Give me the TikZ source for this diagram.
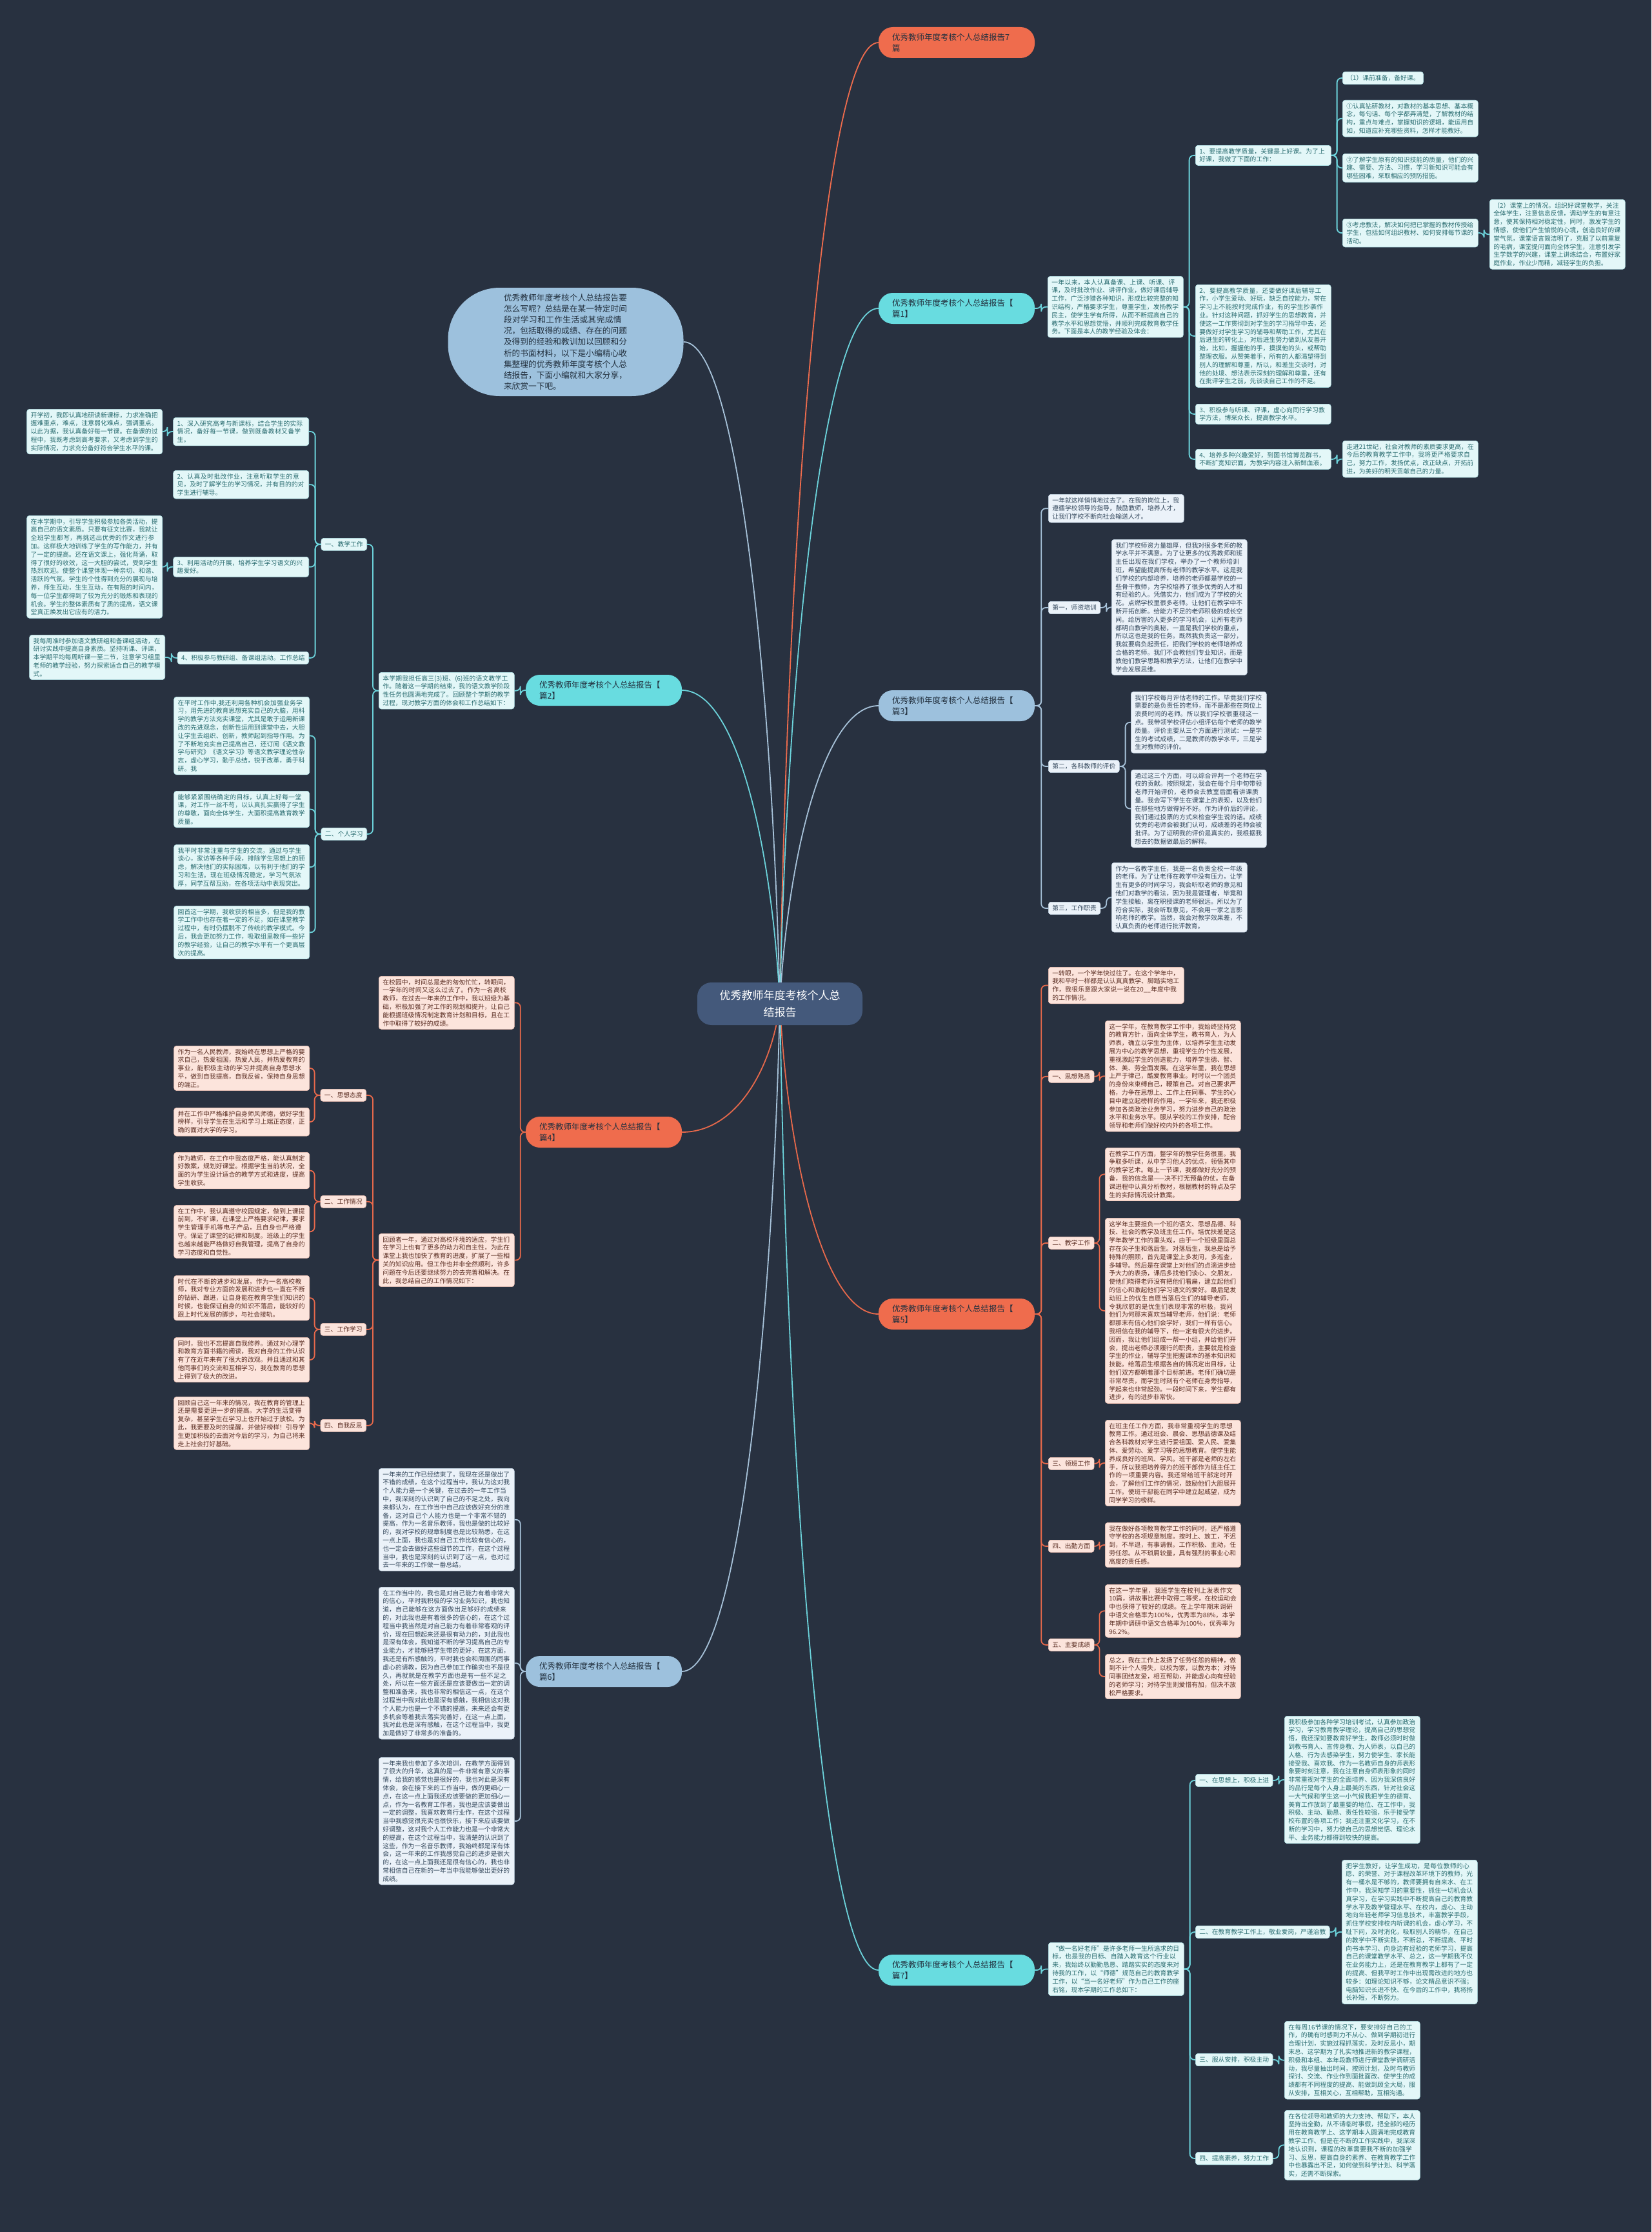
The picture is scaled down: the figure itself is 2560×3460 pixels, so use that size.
\documentclass[tikz,border=0pt]{standalone}
\usepackage{fontspec}
\newfontfamily\cjk{Noto Sans CJK SC}
\XeTeXlinebreaklocale "zh"
\XeTeXlinebreakskip=0pt plus 1pt
\usetikzlibrary{backgrounds}
\pgfdeclarelayer{bgfill}
\pgfdeclarelayer{edges}
\pgfsetlayers{bgfill,edges,main}
\definecolor{bgc}{HTML}{283140}
\definecolor{rootc}{HTML}{44597B}
\definecolor{cyb}{HTML}{68DCE0}
\definecolor{cyl}{HTML}{6CD3DB}
\definecolor{cynf}{HTML}{E3F7F8}
\definecolor{cynd}{HTML}{B5E6EA}
\definecolor{cynt}{HTML}{2A6C70}
\definecolor{ogb}{HTML}{EF6C4D}
\definecolor{ogl}{HTML}{E8694B}
\definecolor{ognf}{HTML}{FCE4DC}
\definecolor{ognd}{HTML}{F2C4B6}
\definecolor{ognt}{HTML}{5A2D22}
\definecolor{blb}{HTML}{9DC1DD}
\definecolor{bll}{HTML}{A7C2D9}
\definecolor{blnf}{HTML}{EBF2F9}
\definecolor{blnd}{HTML}{C6D6E6}
\definecolor{blnt}{HTML}{33475B}
\definecolor{brt}{HTML}{22303E}
\newcommand\notefont{\cjk\fontsize{9.8pt}{12.8pt}\selectfont}
\newcommand\brfont{\cjk\fontsize{12.5pt}{16.5pt}\selectfont}
\newcommand\rootfont{\cjk\fontsize{17pt}{26pt}\selectfont}
\newcommand\introfont{\cjk\fontsize{12.7pt}{17.2pt}\selectfont}
\tikzset{
  base/.style={font=\notefont, rounded corners=4pt, line width=0.6pt, inner xsep=6pt, inner ysep=4.5pt},
  nt/.style={base, align=left, text width=198pt},
  lab/.style={base, inner ysep=5pt},
  cyn/.style={fill=cynf, draw=cynd, text=cynt},
  ogn/.style={fill=ognf, draw=ognd, text=ognt},
  bln/.style={fill=blnf, draw=blnd, text=blnt},
  branch/.style={rounded corners=22pt, minimum width=242pt, minimum height=48pt, text width=200pt, align=left, inner xsep=21pt, font=\brfont, text=brt},
  rootnode/.style={fill=rootc, text=white, rounded corners=22pt, minimum width=256pt, minimum height=66pt, align=center, font=\rootfont},
  intro/.style={fill=blb, text=brt, rounded corners=80pt, minimum width=365pt, minimum height=168pt, text width=192pt, align=left, inner xsep=86pt, font=\introfont},
  cyline/.style={draw=cyl, line width=1.8pt, rounded corners=7pt},
  ogline/.style={draw=ogl, line width=1.8pt, rounded corners=7pt},
  blline/.style={draw=bll, line width=1.8pt, rounded corners=7pt},
  nw/.style={anchor=north west},
  ne/.style={anchor=north east}
}
\begin{document}
\begin{tikzpicture}[x=1pt,y=-1pt]
\begin{pgfonlayer}{bgfill}
\fill[bgc] (0,0) rectangle (2560,3460);
\end{pgfonlayer}
\useasboundingbox (0,0) rectangle (2560,3460);

% root and branches
\node[rootnode] (R) at (1209,1556) {优秀教师年度考核个人总\\结报告};
\node[branch, fill=ogb] (T0) at (1483,66) {优秀教师年度考核个人总结报告7\\篇};
\node[branch, fill=cyb] (B1) at (1483,478) {优秀教师年度考核个人总结报告【\\篇1】};
\node[branch, fill=cyb] (B2) at (936,1070) {优秀教师年度考核个人总结报告【\\篇2】};
\node[branch, fill=blb] (B3) at (1483,1094) {优秀教师年度考核个人总结报告【\\篇3】};
\node[branch, fill=ogb] (B4) at (936,1755) {优秀教师年度考核个人总结报告【\\篇4】};
\node[branch, fill=ogb] (B5) at (1483,2037) {优秀教师年度考核个人总结报告【\\篇5】};
\node[branch, fill=blb] (B6) at (936,2591) {优秀教师年度考核个人总结报告【\\篇6】};
\node[branch, fill=cyb] (B7) at (1483,3054) {优秀教师年度考核个人总结报告【\\篇7】};
\node[intro] (I) at (877,530) {优秀教师年度考核个人总结报告要怎么写呢？总结是在某一特定时间段对学习和工作生活或其完成情况，包括取得的成绩、存在的问题及得到的经验和教训加以回顾和分析的书面材料，以下是小编精心收集整理的优秀教师年度考核个人总结报告，下面小编就和大家分享，来欣赏一下吧。};

% ---------- 篇1 ----------
\node[nt, cyn, nw] (N1) at (1624,428) {一年以来，本人认真备课、上课、听课、评课，及时批改作业、讲评作业，做好课后辅导工作，广泛涉猎各种知识，形成比较完整的知识结构，严格要求学生，尊重学生，发扬教学民主，使学生学有所得，从而不断提高自己的教学水平和思想觉悟，并顺利完成教育教学任务。下面是本人的教学经验及体会：};
\node[nt, cyn, nw] (C11) at (1853,225) {1、要提高教学质量，关键是上好课。为了上好课，我做了下面的工作：};
\node[nt, cyn, nw] (C12) at (1853,441) {2、要提高教学质量，还要做好课后辅导工作，小学生爱动、好玩，缺乏自控能力，常在学习上不能按时完成作业，有的学生抄袭作业。针对这种问题，抓好学生的思想教育，并使这一工作贯彻到对学生的学习指导中去，还要做好对学生学习的辅导和帮助工作，尤其在后进生的转化上，对后进生努力做到从友善开始，比如，握握他的手，摸摸他的头，或帮助整理衣服。从赞美着手，所有的人都渴望得到别人的理解和尊重，所以，和差生交谈时，对他的处境、想法表示深刻的理解和尊重，还有在批评学生之前，先谈谈自己工作的不足。};
\node[nt, cyn, nw] (C13) at (1853,626) {3、积极参与听课、评课，虚心向同行学习教学方法，博采众长，提高教学水平。};
\node[nt, cyn, nw] (C14) at (1853,696) {4、培养多种兴趣爱好，到图书馆博览群书，不断扩宽知识面，为教学内容注入新鲜血液。};
\node[nt, cyn, nw] (C141) at (2081,683) {走进21世纪，社会对教师的素质要求更高，在今后的教育教学工作中，我将更严格要求自己，努力工作，发扬优点，改正缺点，开拓前进，为美好的明天贡献自己的力量。};
\node[lab, cyn, nw] (C111) at (2081,111) {（1）课前准备，备好课。};
\node[nt, cyn, nw] (C112) at (2081,155) {①认真钻研教材，对教材的基本思想、基本概念，每句话、每个字都弄清楚，了解教材的结构，重点与难点，掌握知识的逻辑，能运用自如，知道应补充哪些资料，怎样才能教好。};
\node[nt, cyn, nw] (C113) at (2081,238) {②了解学生原有的知识技能的质量，他们的兴趣、需要、方法、习惯，学习新知识可能会有哪些困难，采取相应的预防措施。};
\node[nt, cyn, nw] (C114) at (2081,339) {③考虑教法，解决如何把已掌握的教材传授给学生，包括如何组织教材、如何安排每节课的活动。};
\node[nt, cyn, nw] (C1141) at (2309,309) {（2）课堂上的情况。组织好课堂教学，关注全体学生，注意信息反馈，调动学生的有意注意，使其保持相对稳定性，同时，激发学生的情感，使他们产生愉悦的心境，创造良好的课堂气氛，课堂语言简洁明了，克服了以前重复的毛病，课堂提问面向全体学生，注意引发学生学数学的兴趣，课堂上讲练结合，布置好家庭作业，作业少而精，减轻学生的负担。};

% ---------- 篇3 ----------
\node[nt, bln, nw] (N3) at (1625,766) {一年就这样悄悄地过去了。在我的岗位上，我遵循学校领导的指导，鼓励教师，培养人才，让我们学校不断向社会输送人才。};
\node[lab, bln, nw] (L31) at (1625,932) {第一，师资培训};
\node[nt, bln, nw] (N31) at (1723,836) {我们学校师资力量雄厚，但我对很多老师的教学水平并不满意。为了让更多的优秀教师和班主任出现在我们学校，举办了一个教师培训班，希望能提高所有老师的教学水平。这是我们学校的内部培养，培养的老师都是学校的一些骨干教师，为学校培养了很多优秀的人才和有经验的人。凭借实力，他们成为了学校的火花。点燃学校里很多老师。让他们在教学中不断开拓创新。给能力不足的老师积极的成长空间。给厉害的人更多的学习机会，让所有老师都明白教学的奥秘，一直是我们学校的重点，所以这也是我的任务。既然我负责这一部分，我就要肩负起责任，把我们学校的老师培养成合格的老师。我们不会教他们专业知识，而是教他们教学思路和教学方法，让他们在教学中学会发展思维。};
\node[lab, bln, nw] (L32) at (1625,1178) {第二，各科教师的评价};
\node[nt, bln, nw] (N321) at (1753,1072) {我们学校每月评估老师的工作。毕竟我们学校需要的是负责任的老师，而不是那些在岗位上浪费时间的老师。所以我们学校很重视这一点。我带领学校评估小组评估每个老师的教学质量。评价主要从三个方面进行测试：一是学生的考试成绩，二是教师的教学水平，三是学生对教师的评价。};
\node[nt, bln, nw] (N322) at (1753,1193) {通过这三个方面，可以综合评判一个老师在学校的贡献。按照规定，我会在每个月中旬带领老师开始评价，老师会去教室后面看讲课质量。我会写下学生在课堂上的表现，以及他们在那些地方做得好不好。作为评价后的评论，我们通过投票的方式来检查学生说的话。成绩优秀的老师会被我们认可，成绩差的老师会被批评。为了证明我的评价是真实的，我根据我想去的数据做最后的解释。};
\node[lab, bln, nw] (L33) at (1625,1398) {第三，工作职责};
\node[nt, bln, nw] (N33) at (1723,1337) {作为一名教学主任，我是一名负责全校一年级的老师。为了让老师在教学中没有压力，让学生有更多的时间学习，我会听取老师的意见和他们对教学的看法，因为我是管理者，毕竟和学生接触，离在职授课的老师很远。所以为了符合实际，我会听取意见，不会用一家之言影响老师的教学。当然，我会对教学效果差，不认真负责的老师进行批评教育。};

% ---------- 篇5 ----------
\node[nt, ogn, nw] (N5) at (1625,1499) {一转眼，一个学年快过往了。在这个学年中，我和平时一样都是认认真真教学、脚踏实地工作，我很乐意跟大家说一说在20\_\_年度中我的工作情况。};
\node[lab, ogn, nw] (L51) at (1625,1659) {一、思想熟悉};
\node[nt, ogn, nw] (N51) at (1713,1582) {这一学年，在教育教学工作中，我始终坚持党的教育方针，面向全体学生，教书育人，为人师表，确立以学生为主体，以培养学生主动发展为中心的教学思想，重视学生的个性发展，重视激起学生的创造能力，培养学生德、智、体、美、劳全面发展。在这学年里，我在思想上严于律己，酷爱教育事业。时时以一个团员的身份来束缚自己，鞭策自己。对自己要求严格，力争在思想上、工作上在同事、学生的心目中建立起榜样的作用。一学年来，我还积极参加各类政治业务学习，努力进步自己的政治水平和业务水平。服从学校的工作安排，配合领导和老师们做好校内外的各项工作。};
\node[lab, ogn, nw] (L52) at (1625,1917) {二、教学工作};
\node[nt, ogn, nw] (N521) at (1713,1779) {在教学工作方面，整学年的教学任务很重。我争取多听课，从中学习他人的优点，领悟其中的教学艺术。每上一节课，我都做好充分的预备，我的信念是——决不打无预备的仗。在备课进程中认真分析教材，根据教材的特点及学生的实际情况设计教案。};
\node[nt, ogn, nw] (N522) at (1713,1888) {这学年主要担负一个班的语文、思想品德、科技、社会的教学及班主任工作。培优扶差是这学年教学工作的重头戏，由于一个班级里面总存在尖子生和落后生。对落后生，我总是给予特殊的照顾，首先是课堂上多发问，多巡查，多辅导。然后是在课堂上对他们的点滴进步给予大力的表扬，课后多找他们谈心、交朋友，使他们晓得老师没有把他们看扁，建立起他们的信心和激起他们学习语文的爱好。最后是发动班上的优生自愿当落后生们的辅导老师，令我欣慰的是优生们表现非常的积极，我问他们为何那末喜欢当辅导老师，他们说：老师都那末有信心他们会学好，我们一样有信心。我相信在我的辅导下，他一定有很大的进步。因而，我让他们组成一帮一小组，并给他们开会，提出老师必须履行的职责，主要就是检查学生的作业，辅导学生把握课本的基本知识和技能。给落后生根据各自的情况定出目标，让他们双方都朝着那个目标前进。老师们确切是非常尽责，而学生时刻有个老师在身旁指导，学起来也非常起劲。一段时间下来，学生都有进步，有的进步非常快。};
\node[lab, ogn, nw] (L53) at (1625,2259) {三、领班工作};
\node[nt, ogn, nw] (N53) at (1713,2201) {在班主任工作方面，我非常重视学生的思想教育工作。通过班会、晨会、思想品德课及结合各科教材对学生进行爱祖国、爱人民、爱集体、爱劳动、爱学习等的思想教育。使学生能养成良好的班风、学风。班干部是老师的左右手，所以我把培养得力的班干部作为班主任工作的一项重要内容。我还常给班干部定时开会，了解他们工作的情况，鼓励他们大胆展开工作。使班干部能在同学中建立起威望，成为同学学习的榜样。};
\node[lab, ogn, nw] (L54) at (1625,2387) {四、出勤方面};
\node[nt, ogn, nw] (N54) at (1713,2360) {我在做好各项教育教学工作的同时，还严格遵守学校的各项规章制度。按时上、放工，不迟到，不早退，有事请假。工作积极、主动，任劳任怨。从不琐屑较量，具有强烈的事业心和高度的责任感。};
\node[lab, ogn, nw] (L55) at (1625,2540) {五、主要成绩};
\node[nt, ogn, nw] (N551) at (1713,2456) {在这一学年里，我班学生在校刊上发表作文10篇，讲故事比赛中取得二等奖，在校运动会中也获得了较好的成绩。在上学年期末调研中语文合格率为100％，优秀率为88\%，本学年期中调研中语文合格率为100％，优秀率为96.2\%。};
\node[nt, ogn, nw] (N552) at (1713,2564) {总之，我在工作上发扬了任劳任怨的精神，做到不计个人得失，以校为家，以教为本；对待同事团结友爱，相互帮助，并能虚心向有经验的老师学习；对待学生则爱惜有加，但决不放松严格要求。};

% ---------- 篇7 ----------
\node[nt, cyn, nw] (N7) at (1625,3011) {“做一名好老师”是许多老师一生所追求的目标，也是我的目标、自踏入教育这个行业以来，我始终以勤勤恳恳、踏踏实实的态度来对待我的工作，以“师德”规范自己的教育教学工作，以“当一名好老师”作为自己工作的座右铭，现本学期的工作总如下：};
\node[lab, cyn, nw] (L71) at (1853,2750) {一、在思想上，积极上进};
\node[nt, cyn, nw] (N71) at (1991,2660) {我积极参加各种学习培训考试，认真参加政治学习，学习教育教学理论，提高自己的思想觉悟，我还深知要教育好学生，教师必须时时做到教书育人、言传身教、为人师表，以自己的人格、行为去感染学生，努力使学生、家长能接受我、喜欢我、作为一名教师自身的师表形象要时刻注意，我在注意自身师表形象的同时非常重视对学生的全面培养、因为我深信良好的品行是每个人身上最美的东西，针对社会这一大气候和学生这一小气候我把学生的德育、美育工作放到了最重要的地位、在工作中，我积极、主动、勤恳、责任性较强，乐于接受学校布置的各项工作；我还注重文化学习，在不断的学习中，努力使自己的思想觉悟、理论水平、业务能力都得到较快的提高。};
\node[lab, cyn, nw] (L72) at (1853,2985) {二、在教育教学工作上，敬业爱岗，严谨治教};
\node[nt, cyn, nw] (N72) at (2080,2883) {把学生教好，让学生成功，是每位教师的心愿、的荣誉、对于课程改革环境下的教师，光有一桶水是不够的，教师要拥有自来水、在工作中，我深知学习的重要性，抓住一切机会认真学习，在学习实践中不断提高自己的教育教学水平及教学管理水平、在校内，虚心、主动地向年轻老师学习信息技术，丰富教学手段，抓住学校安排校内听课的机会，虚心学习，不耻下问，及时消化，吸取别人的精华，在自己的教学中不断实践，不断总，不断提高、平时向书本学习、向身边有经验的老师学习，提高自己的课堂教学水平、总之，这一学期我不仅在业务能力上，还是在教育教学上都有了一定的提高、但我平时工作中出现需改进的地方也较多：如理论知识不够，论文精品意识不强；电脑知识长进不快、在今后的工作中，我将扬长补短，不断努力。};
\node[lab, cyn, nw] (L73) at (1853,3183) {三、服从安排，积极主动};
\node[nt, cyn, nw] (N73) at (1991,3133) {在每周16节课的情况下，要安排好自己的工作，的确有时感到力不从心、做到学期初进行合理计划，实施过程抓落实，及时反思小，期末总、这学期为了扎实地推进新的教学课程，积极和本组、本年段教师进行课堂教学调研活动，我尽量抽出时间，按照计划，及时与教师探讨、交流、作业作到面批面改、使学生的成绩都有不同程度的提高、能做到顾全大局，服从安排，互相关心，互相帮助，互相沟通。};
\node[lab, cyn, nw] (L74) at (1853,3336) {四、提高素养，努力工作};
\node[nt, cyn, nw] (N74) at (1991,3271) {在各位领导和教师的大力支持、帮助下，本人坚持出全勤，从不请临时事假，把全部的经历用在教育教学上、这学期本人圆满地完成教育教学工作、但是在不断的工作实践中，我深深地认识到，课程的改革需要我不断的加强学习、反思，提高自身的素养、在教育教学工作中也暴露出不足，如何做到科学计划、科学落实，还需不断探索。};

% ---------- 篇2 ----------
\node[nt, cyn, nw] (N2) at (587,1042) {本学期我担任高三(3)班、(6)班的语文教学工作。随着这一学期的结束，我的语文教学阶段性任务也圆满地完成了。回顾整个学期的教学过程，现对教学方面的体会和工作总结如下：};
\node[lab, cyn, ne] (L21) at (569,834) {一、教学工作};
\node[lab, cyn, ne] (L22) at (569,1283) {二、个人学习};
\node[nt, cyn, ne] (C211) at (479,647) {1、深入研究高考与新课标，结合学生的实际情况，备好每一节课，做到既备教材又备学生。};
\node[nt, cyn, ne] (N211) at (252,634) {开学初，我即认真地研读新课标，力求准确把握难重点，难点，注意弱化难点，强调重点。以此为据，我认真备好每一节课。在备课的过程中，我既考虑到高考要求，又考虑到学生的实际情况，力求充分备好符合学生水平的课。};
\node[nt, cyn, ne] (C212) at (479,729) {2、认真及时批改作业，注意听取学生的意见，及时了解学生的学习情况，并有目的的对学生进行辅导。};
\node[nt, cyn, ne] (C213) at (479,863) {3、利用活动的开展，培养学生学习语文的兴趣爱好。};
\node[nt, cyn, ne] (N213) at (252,799) {在本学期中，引导学生积极参加各类活动，提高自己的语文素质。只要有征文比赛，我就让全班学生都写，再挑选出优秀的作文进行参加。这样极大地训练了学生的写作能力，并有了一定的提高。还在语文课上，强化背诵，取得了很好的收效，这一大胆的尝试，受到学生热烈欢迎。使整个课堂体现一种亲切、和谐、活跃的气氛。学生的个性得到充分的展现与培养，师生互动，生生互动，在有限的时间内，每一位学生都得到了较为充分的锻炼和表现的机会。学生的整体素质有了质的提高，语文课堂真正焕发出它应有的活力。};
\node[lab, cyn, ne] (C214) at (479,1010) {4、积极参与教研组、备课组活动。工作总结};
\node[nt, cyn, ne] (N214) at (256,984) {我每周准时参加语文教研组和备课组活动，在研讨实践中提高自身素质。坚持听课、评课，本学期平均每周听课一至二节，注意学习组里老师的教学经验，努力探索适合自己的教学模式。};
\node[nt, cyn, ne] (C221) at (480,1080) {在平时工作中,我还利用各种机会加强业务学习，用先进的教育思想充实自己的大脑，用科学的教学方法充实课堂，尤其是敢于运用新课改的先进观念，创新性运用到课堂中去，大胆让学生去组织、创新，教师起到指导作用。为了不断地充实自己提高自己，还订阅《语文教学与研究》《语文学习》等语文教学理论性杂志，虚心学习，勤于总结，锐于改革，勇于科研。我};
\node[nt, cyn, ne] (C222) at (480,1226) {能够紧紧围绕确定的目标，认真上好每一堂课，对工作一丝不苟，以认真扎实赢得了学生的尊敬，面向全体学生，大面积提高教育教学质量。};
\node[nt, cyn, ne] (C223) at (480,1309) {我平时非常注重与学生的交流，通过与学生谈心，家访等各种手段，排除学生思想上的顾虑，解决他们的实际困难，以有利于他们的学习和生活。现在班级情况稳定，学习气氛浓厚，同学互帮互助，在各项活动中表现突出。};
\node[nt, cyn, ne] (C224) at (480,1404) {回首这一学期，我收获的相当多，但是我的教学工作中也存在着一定的不足，如在课堂教学过程中，有时仍摆脱不了传统的教学模式。今后，我会更加努力工作，吸取组里教师一些好的教学经验，让自己的教学水平有一个更高层次的提高。};

% ---------- 篇4 ----------
\node[nt, ogn, nw] (N41) at (587,1513) {在校园中，时间总是走的匆匆忙忙，转眼间，一学年的时间又这么过去了。作为一名高校教师，在过去一年来的工作中，我以班级为基础，积极加强了对工作的规划和提升，让自己能根据班级情况制定教育计划和目标，且在工作中取得了较好的成绩。};
\node[nt, ogn, nw] (N42) at (587,1912) {回顾者一年，通过对高校环境的适应，学生们在学习上也有了更多的动力和自主性，为此在课堂上我也加快了教育的进度，扩展了一些相关的知识应用。但工作也并非全然顺利，许多问题在今后还要继续努力的去完善和解决。在此，我总结自己的工作情况如下：};
\node[lab, ogn, ne] (L41) at (568,1688) {一、思想态度};
\node[lab, ogn, ne] (L42) at (568,1853) {二、工作情况};
\node[lab, ogn, ne] (L43) at (568,2051) {三、工作学习};
\node[lab, ogn, ne] (L44) at (568,2200) {四、自我反思};
\node[nt, ogn, ne] (C411) at (480,1621) {作为一名人民教师，我始终在思想上严格的要求自己，热爱祖国，热爱人民，并热爱教育的事业，能积极主动的学习并提高自身思想水平，做到自我提高，自我反省，保持自身思想的端正。};
\node[nt, ogn, ne] (C412) at (480,1717) {并在工作中严格维护自身师风师德，做好学生榜样，引导学生在生活和学习上端正态度，正确的面对大学的学习。};
\node[nt, ogn, ne] (C421) at (480,1786) {作为教师，在工作中我态度严格，能认真制定好教案，规划好课堂。根据学生当前状况，全面的为学生设计适合的教学方式和进度，提高学生收获。};
\node[nt, ogn, ne] (C422) at (480,1868) {在工作中，我认真遵守校园规定，做到上课提前到，不旷课，在课堂上严格要求纪律，要求学生管理手机等电子产品，且自身也严格遵守。保证了课堂的纪律和制度。班级上的学生也越来越能严格做好自我管理，提高了自身的学习态度和自觉性。};
\node[nt, ogn, ne] (C431) at (480,1977) {时代在不断的进步和发展，作为一名高校教师，我对专业方面的发展和进步也一直在不断的钻研、跟进，让自身能在教育学生们知识的时候，也能保证自身的知识不落后，能较好的跟上时代发展的脚步，与社会接轨。};
\node[nt, ogn, ne] (C432) at (480,2073) {同时，我也不忘提高自我修养。通过对心理学和教育方面书籍的阅读，我对自身的工作认识有了在近年来有了很大的改观。并且通过和其他同事们的交流和互相学习，我在教育的思想上得到了极大的改进。};
\node[nt, ogn, ne] (C441) at (480,2165) {回顾自己这一年来的情况，我在教育的管理上还是需要更进一步的提高。大学的生活变得复杂，甚至学生在学习上也开始过于放松。为此，我更要及时的提醒，并做好榜样！引导学生更加积极的去面对今后的学习，为自己将来走上社会打好基础。};

% ---------- 篇6 ----------
\node[nt, bln, nw] (N61) at (587,2276) {一年来的工作已经结束了，我现在还是做出了不错的成绩，在这个过程当中，我认为这对我个人能力是一个关键，在过去的一年工作当中，我深刻的认识到了自己的不足之处，我向来都认为，在工作当中自己应该做好充分的准备，这对自己个人能力也是一个非常不错的提高，作为一名音乐教师，我也是做的比较好的，我对学校的规章制度也是比较熟悉，在这一点上面，我也是对自己工作比较有信心的，也一定会去做好这些细节的工作，在这个过程当中，我也是深刻的认识到了这一点，也对过去一年来的工作做一番总结。};
\node[nt, bln, nw] (N62) at (587,2460) {在工作当中的，我也是对自己能力有着非常大的信心，平时我积极的学习业务知识，我也知道，自己能够在这方面做出足够好的成绩来的，对此我也是有着很多的信心的，在这个过程当中我当然是对自己能力有着非常客观的评价，现在回想起来还是很有动力的，对此我也是深有体会，我知道不断的学习提高自己的专业能力，才能够把学生带的更好，在这方面，我还是有所感触的，平时我也会和周围的同事虚心的请教，因为自己参加工作确实也不是很久，再就就是在教学方面也是有一些不足之处，所以在一些方面还是应该要做出一定的调整和准备来，我也非常的相信这一点，在这个过程当中我对此也是深有感触，我相信这对我个人能力也是一个不错的提高，未来还会有更多机会等着我去落实完善好，在这一点上面，我对此也是深有感触，在这个过程当中，我更加是做好了非常多的准备的。};
\node[nt, bln, nw] (N63) at (587,2724) {一年来我也参加了多次培训，在教学方面得到了很大的升华，这真的是一件非常有意义的事情，给我的感觉也是很好的，我也对此是深有体会，会在接下来的工作当中，做的更细心一点，在这一点上面我还应该要做的更加细心一点，作为一名教育工作者，我也是应该要做出一定的调整，我喜欢教育行业作，在这个过程当中我感觉很充实也很快乐，接下来应该要做好调整，这对我个人工作能力也是一个非常大的提高，在这个过程当中，我清楚的认识到了这些，作为一名音乐教师，我始终都是深有体会，这一年来的工作我感觉自己的进步是很大的，在这一点上面我还是很有信心的，我也非常相信自己在新的一年当中我能够做出更好的成绩。};

% ---------- connectors ----------
\begin{pgfonlayer}{edges}
\draw[ogb, line width=1.8pt] (R.center) .. controls (1221,811) and (1278,66) .. (T0.west);
\draw[cyl, line width=1.8pt] (R.center) .. controls (1221,1017) and (1278,478) .. (B1.west);
\draw[bll, line width=1.8pt] (R.center) .. controls (1197,1043) and (1142,530) .. (I.east);
\draw[bll, line width=1.8pt] (R.center) .. controls (1221,1325) and (1278,1094) .. (B3.west);
\draw[cyl, line width=1.8pt] (R.center) .. controls (1197,1313) and (1142,1070) .. (B2.east);
\draw[ogl, line width=1.8pt] (R.center) .. controls (1197,1655) and (1142,1755) .. (B4.east);
\draw[ogl, line width=1.8pt] (R.center) .. controls (1221,1796) and (1278,2037) .. (B5.west);
\draw[bll, line width=1.8pt] (R.center) .. controls (1197,2073) and (1142,2591) .. (B6.east);
\draw[cyl, line width=1.8pt] (R.center) .. controls (1221,2305) and (1278,3054) .. (B7.west);

% 篇1
\draw[cyline] (B1.east) -- ++(10,0) |- (N1.west);
\foreach \c in {C11,C12,C13,C14} \draw[cyline] (N1.east) -- ++(9,0) |- (\c.west);
\foreach \c in {C111,C112,C113,C114} \draw[cyline] (C11.east) -- ++(9,0) |- (\c.west);
\draw[cyline] (C114.east) -- ++(9,0) |- (C1141.west);
\draw[cyline] (C14.east) -- ++(9,0) |- (C141.west);
% 篇3
\foreach \c in {N3,L31,L32,L33} \draw[blline] (B3.east) -- ++(10,0) |- (\c.west);
\draw[blline] (L31.east) -- ++(9,0) |- (N31.west);
\draw[blline] (L32.east) -- ++(9,0) |- (N321.west);
\draw[blline] (L32.east) -- ++(9,0) |- (N322.west);
\draw[blline] (L33.east) -- ++(9,0) |- (N33.west);
% 篇5
\foreach \c in {N5,L51,L52,L53,L54,L55} \draw[ogline] (B5.east) -- ++(10,0) |- (\c.west);
\draw[ogline] (L51.east) -- ++(8,0) |- (N51.west);
\draw[ogline] (L52.east) -- ++(8,0) |- (N521.west);
\draw[ogline] (L52.east) -- ++(8,0) |- (N522.west);
\draw[ogline] (L53.east) -- ++(8,0) |- (N53.west);
\draw[ogline] (L54.east) -- ++(8,0) |- (N54.west);
\draw[ogline] (L55.east) -- ++(8,0) |- (N551.west);
\draw[ogline] (L55.east) -- ++(8,0) |- (N552.west);
% 篇7
\draw[cyline] (B7.east) -- ++(10,0) |- (N7.west);
\foreach \c in {L71,L72,L73,L74} \draw[cyline] (N7.east) -- ++(9,0) |- (\c.west);
\draw[cyline] (L71.east) -- ++(9,0) |- (N71.west);
\draw[cyline] (L72.east) -- ++(9,0) |- (N72.west);
\draw[cyline] (L73.east) -- ++(9,0) |- (N73.west);
\draw[cyline] (L74.east) -- ++(9,0) |- (N74.west);
% 篇2
\draw[cyline] (B2.west) -- ++(-8,0) |- (N2.east);
\foreach \c in {L21,L22} \draw[cyline] (N2.west) -- ++(-9,0) |- (\c.east);
\foreach \c in {C211,C212,C213,C214} \draw[cyline] (L21.west) -- ++(-9,0) |- (\c.east);
\draw[cyline] (C211.west) -- ++(-9,0) |- (N211.east);
\draw[cyline] (C213.west) -- ++(-9,0) |- (N213.east);
\draw[cyline] (C214.west) -- ++(-9,0) |- (N214.east);
\foreach \c in {C221,C222,C223,C224} \draw[cyline] (L22.west) -- ++(-9,0) |- (\c.east);
% 篇4
\foreach \c in {N41,N42} \draw[ogline] (B4.west) -- ++(-8,0) |- (\c.east);
\foreach \c in {L41,L42,L43,L44} \draw[ogline] (N42.west) -- ++(-9,0) |- (\c.east);
\foreach \c in {C411,C412} \draw[ogline] (L41.west) -- ++(-9,0) |- (\c.east);
\foreach \c in {C421,C422} \draw[ogline] (L42.west) -- ++(-9,0) |- (\c.east);
\foreach \c in {C431,C432} \draw[ogline] (L43.west) -- ++(-9,0) |- (\c.east);
\draw[ogline] (L44.west) -- ++(-9,0) |- (C441.east);
% 篇6
\foreach \c in {N61,N62,N63} \draw[blline] (B6.west) -- ++(-8,0) |- (\c.east);
\end{pgfonlayer}
\end{tikzpicture}
\end{document}
